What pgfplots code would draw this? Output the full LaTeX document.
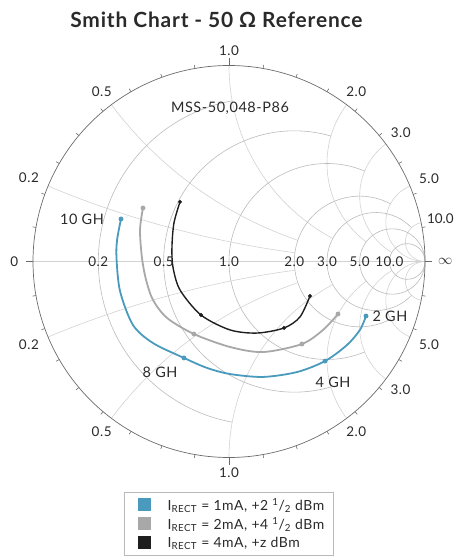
\documentclass[border=0pt]{standalone}
\usepackage{pgfplots}
\pgfplotsset{compat=1.18}
\usepackage{fontspec}
\setmainfont{Lato}[LetterSpace=4]
\newfontfamily\tightfont{Lato}
\definecolor{cblue}{HTML}{4A9ABD}
\definecolor{cgray}{HTML}{A8A8A8}
\definecolor{cblack}{HTML}{1E1E1E}
\definecolor{rgrid}{HTML}{BBBBBB}
\definecolor{xgrid}{HTML}{D2D2D2}
\definecolor{rim}{HTML}{6A6A6A}
\definecolor{txt}{HTML}{2A2A2A}
\begin{document}
\begin{tikzpicture}
\useasboundingbox (-229bp,-296.5bp) rectangle (227bp,261.5bp);
\begin{scope}[x=196bp,y=196bp]
  % real axis
  \draw[xgrid, line width=0.6pt] (-1,0) -- (1,0);
  % reactance arcs (centre y, radius, start angle, end angle)
  \foreach \cy/\rr/\aa/\ab in {5/5/247.38/262.37, 2/2/216.87/251.08, 1/1/180/241.93,
      0.5/0.5/143.13/233.13, 0.33333/0.33333/126.87/239.49, 0.2/0.2/112.62/270, 0.1/0.1/101.42/270}{
    \draw[xgrid, line width=0.6pt] (1,\cy) ++(\aa:\rr) arc[start angle=\aa, end angle=\ab, radius=\rr];
    \draw[xgrid, line width=0.6pt] (1,-\cy) ++(-\aa:\rr) arc[start angle=-\aa, end angle=-\ab, radius=\rr];
  }
  % resistance circles (centre x, radius, stop angles)
  \foreach \cx/\rr/\th/\te in {0.16667/0.83333/100.39/259.61, 0.33333/0.66667/73.74/286.26,
      0.5/0.5/67.38/292.62, 0.66667/0.33333/61.93/298.07, 0.75/0.25/43.6/316.4}{
    \draw[rgrid, line width=0.6pt] (\cx,0) ++(\th:\rr) arc[start angle=\th, end angle=\te, radius=\rr];
  }
  \draw[rgrid, line width=0.6pt] (0.83333,0) circle[radius=0.16667];
  \draw[rgrid, line width=0.6pt] (0.90909,0) circle[radius=0.09091];
  % outer circle and ticks
  \draw[rim, line width=0.7pt] (0,0) circle[radius=1];
  \foreach \a in {10,20,...,350} \draw[rim, line width=0.6pt] (\a:1) -- (\a:1.018);
  \foreach \a in {0,90,180,270} \draw[rim, line width=0.7pt] (\a:1) -- (\a:1.036);
  % reactance labels
  \foreach \a/\an/\t in {157.38/337.38/0.2, 126.87/306.87/0.5, 90/270/1.0, 53.13/233.13/2.0,
      36.87/216.87/3.0, 22.62/202.62/5.0,
      202.62/22.62/0.2, 233.13/53.13/0.5, 270/90/1.0, 306.87/126.87/2.0,
      323.13/143.13/3.0, 337.38/157.38/5.0}{
    \node[txt, inner sep=0pt, anchor=\an, font=\fontsize{13.5}{15}\selectfont] at (\a:1.05) {\t};
  }
  \node[txt, inner sep=0pt, anchor=191.42, font=\tightfont\fontsize{13.5}{15}\selectfont] at (11.42:1.03) {10.0};
  \node[txt, inner sep=0pt, anchor=east, font=\fontsize{13.5}{15}\selectfont] at (180:1.075) {0};
  \node[txt, inner sep=0pt, anchor=west, font=\fontsize{15}{15}\selectfont] at (0:1.066) {$\infty$};
\end{scope}
\begin{axis}[at={(0,0)}, anchor=origin, x=196bp, y=196bp,
  xmin=-1, xmax=1, ymin=-1, ymax=1, hide axis, clip=false,
  legend style={at={(axis cs:0,-1.176)}, anchor=north, draw=gray!55, line width=0.8pt,
    fill=white, inner xsep=9bp, inner ysep=3bp, row sep=0pt, column sep=0pt,
    font=\fontsize{14}{16}\selectfont, text=txt, nodes={inner sep=0pt}},
  legend cell align=left,
  legend image code/.code={\fill[#1] (4bp,-6.5bp) rectangle (17bp,6.5bp); \path (0bp,-9.5bp) (34bp,9.5bp);}]
  % 1 mA
  \addplot[cblue, line width=1.8pt, smooth, forget plot] coordinates {
    (-0.551,0.217) (-0.571,0.110) (-0.574,0.018) (-0.556,-0.151) (-0.490,-0.324)
    (-0.388,-0.416) (-0.230,-0.492) (-0.112,-0.543) (0.005,-0.574) (0.173,-0.589)
    (0.347,-0.564) (0.490,-0.508) (0.602,-0.426) (0.668,-0.349) (0.699,-0.278)};
  \addplot[cblue, only marks, mark=*, mark size=2.2pt, forget plot] coordinates {
    (-0.551,0.217) (-0.230,-0.492) (0.490,-0.508) (0.699,-0.278)};
  % 2 mA
  \addplot[cgray, line width=1.8pt, smooth, forget plot] coordinates {
    (-0.439,0.273) (-0.454,0.161) (-0.444,0.018) (-0.423,-0.094) (-0.388,-0.196)
    (-0.316,-0.288) (-0.179,-0.370) (0.005,-0.436) (0.173,-0.462) (0.372,-0.421)
    (0.480,-0.349) (0.556,-0.268)};
  \addplot[cgray, only marks, mark=*, mark size=2.2pt, forget plot] coordinates {
    (-0.439,0.273) (-0.179,-0.370) (0.372,-0.421) (0.556,-0.268)};
  % 4 mA
  \addplot[cblack, line width=1.4pt, smooth, forget plot] coordinates {
    (-0.250,0.304) (-0.281,0.196) (-0.291,0.074) (-0.286,-0.028) (-0.250,-0.145)
    (-0.143,-0.273) (0.005,-0.349) (0.143,-0.365) (0.281,-0.339) (0.362,-0.283)
    (0.413,-0.176)};
  \addplot[cblack, only marks, mark=*, mark size=1.8pt, forget plot] coordinates {
    (-0.250,0.304) (-0.143,-0.273) (0.281,-0.339) (0.413,-0.176)};
  % legend
  \addlegendimage{fill=cblue, draw=none}
  \addlegendentry{I\textsubscript{RECT} = 1mA, +2 \textsuperscript{1}/\textsubscript{2} dBm}
  \addlegendimage{fill=cgray, draw=none}
  \addlegendentry{I\textsubscript{RECT} = 2mA, +4 \textsuperscript{1}/\textsubscript{2} dBm}
  \addlegendimage{fill=cblack, draw=none}
  \addlegendentry{I\textsubscript{RECT} = 4mA, +z dBm}
  % resistance labels on real axis
  \foreach \p/\t in {-0.66667/0.2, -0.33333/0.5, 0/1.0, 0.33333/2.0, 0.5/3.0, 0.66667/5.0, 0.81818/10.0}{
    \edef\tmp{\noexpand\node[txt, font=\noexpand\fontsize{13.5}{15}\noexpand\selectfont, inner sep=0pt] at (axis cs:\p,0) {\t};}
    \tmp
  }
  % annotations
  \node[txt, font=\fontsize{14.5}{16}\selectfont] at (axis cs:0.005,0.783) {MSS-50,048-P86};
  \node[txt, font=\fontsize{14.5}{16}\selectfont] at (axis cs:-0.75,0.217) {10 GH};
  \node[txt, font=\fontsize{14.5}{16}\selectfont] at (axis cs:-0.352,-0.564) {8 GH};
  \node[txt, font=\fontsize{14.5}{16}\selectfont] at (axis cs:0.531,-0.615) {4 GH};
  \node[txt, font=\fontsize{14.5}{16}\selectfont] at (axis cs:0.821,-0.278) {2 GH};
  % title
  \node[txt, font=\bfseries\fontsize{21}{24}\selectfont, anchor=base] at (axis cs:-0.064,1.195)
    {Smith Chart - 50 Ω Reference};
\end{axis}
\end{tikzpicture}
\end{document}
